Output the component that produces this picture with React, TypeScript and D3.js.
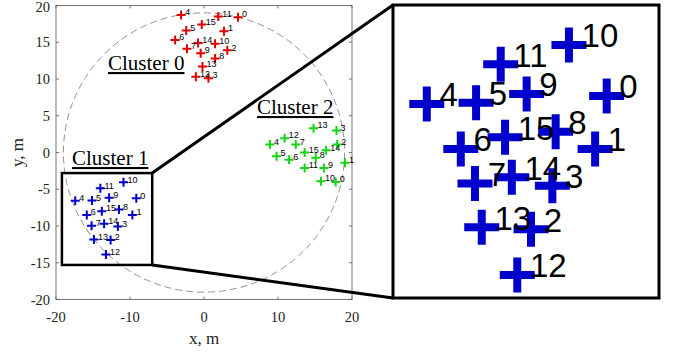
import * as d3 from 'd3';

// point ids, same order in every cluster
const ids = ['0', '1', '2', '3', '4', '5', '6', '7', '8', '9', '10', '11', '12', '13', '14', '15'];

const cluster0X = [4.6, 2.7, 3.15, 0.6, -3.1, -2.4, -3.9, -2.3, 1.5, -0.45, 1.5, 1.93, -1.1, -0.2, -0.8, -0.3];
const cluster0Y = [18.4, 16.5, 13.9, 10.1, 18.7, 16.6, 15.3, 14.1, 12.8, 13.5, 14.8, 18.5, 10.3, 11.7, 14.9, 17.4];

const cluster1X = [-9.15, -9.68, -12.62, -11.64, -17.4, -15.14, -15.84, -15.19, -11.49, -12.82, -10.88, -14.01, -13.25, -14.88, -13.5, -13.81];
const cluster1Y = [-6.23, -8.49, -11.92, -10.06, -6.57, -6.52, -8.49, -9.96, -7.76, -6.15, -4.06, -4.88, -13.87, -11.83, -9.7, -7.99];

const cluster2X = [17.8, 19.05, 18.0, 17.9, 8.9, 9.8, 11.5, 12.4, 15.1, 16.2, 15.8, 13.6, 10.9, 14.8, 16.5, 13.6];
const cluster2Y = [-4.0, -1.4, 1.1, 3.0, 1.1, -0.5, -1.0, 1.1, -0.7, -2.1, -3.9, -2.1, 1.95, 3.3, 0.3, 0.0];

const clusterNames = ['Cluster 0', 'Cluster 1', 'Cluster 2'];
const xTicks = [-20, -10, 0, 10, 20];
const yTicks = [-20, -15, -10, -5, 0, 5, 10, 15, 20];

// zoomed region (data units) and the inset's own limits
const zoomX = [-19.2, -7.0];
const zoomY = [-15.3, -2.8];
const insetX = [-18.95, -6.75];
const insetY = [-14.85, -2.35];
const circleR = 19;

const colors = ['#dd0000', '#0000cc', '#11d611'];
const serif = '"Liberation Serif", "Times New Roman", serif';
const sans = '"Liberation Sans", Arial, sans-serif';

const clusters = [
  { xs: cluster0X, ys: cluster0Y, color: colors[0] },
  { xs: cluster1X, ys: cluster1Y, color: colors[1] },
  { xs: cluster2X, ys: cluster2Y, color: colors[2] },
];

const cross = (cx: number, cy: number, h: number) =>
  `M${cx - h},${cy}H${cx + h}M${cx},${cy - h}V${cy + h}`;

export default function App() {
  const W = 678, H = 354;
  const x = d3.scaleLinear().domain([-20, 20]).range([56, 352]);
  const y = d3.scaleLinear().domain([-20, 20]).range([299.5, 5.5]);
  const ix = d3.scaleLinear().domain(insetX).range([393, 659]);
  const iy = d3.scaleLinear().domain(insetY).range([298, 5]);

  const rx0 = x(zoomX[0]), rx1 = x(zoomX[1]);
  const ry0 = y(zoomY[1]), ry1 = y(zoomY[0]);

  // label anchors for the cluster names, in data units
  const nameAt = [[-12.97, 11.22], [-17.84, -1.7], [7.16, 5.24]];

  return (
    <svg width={W} height={H} style={{ position: 'absolute', left: 0, top: 0, background: '#fff' }}>
      {/* dashed circle */}
      <ellipse cx={x(0)} cy={y(0)} rx={x(circleR) - x(0)} ry={y(0) - y(circleR)}
        fill="none" stroke="#777" strokeWidth={0.8} strokeDasharray="7,4" />

      {/* axes box + ticks */}
      <rect x={x(-20)} y={y(20)} width={x(20) - x(-20)} height={y(-20) - y(20)}
        fill="none" stroke="#555" strokeWidth={0.8} />
      {xTicks.map(t => (
        <g key={'xt' + t}>
          <line x1={x(t)} x2={x(t)} y1={y(-20)} y2={y(-20) - 3} stroke="#555" strokeWidth={0.8} />
          <line x1={x(t)} x2={x(t)} y1={y(20)} y2={y(20) + 3} stroke="#555" strokeWidth={0.8} />
          <text x={x(t)} y={322} textAnchor="middle" fontFamily={serif} fontSize={14.5} fill="#222">{t}</text>
        </g>
      ))}
      {yTicks.map(t => (
        <g key={'yt' + t}>
          <line x1={x(-20)} x2={x(-20) + 3} y1={y(t)} y2={y(t)} stroke="#555" strokeWidth={0.8} />
          <line x1={x(20)} x2={x(20) - 3} y1={y(t)} y2={y(t)} stroke="#555" strokeWidth={0.8} />
          <text x={50} y={Math.max(y(t), 6.5)} dy="0.35em" textAnchor="end" fontFamily={serif} fontSize={14.5} fill="#222">{t}</text>
        </g>
      ))}
      <text x={x(0)} y={344} textAnchor="middle" fontFamily={serif} fontSize={17} fill="#222">x, m</text>
      <text transform={`translate(23,${y(0)}) rotate(-90)`} textAnchor="middle" fontFamily={serif} fontSize={17} fill="#222">y, m</text>

      {/* points in main plot */}
      {clusters.map((c, k) => (
        <g key={'c' + k}>
          {c.xs.map((v, i) => (
            <path key={i} d={cross(x(v), y(c.ys[i]), 4.5)} stroke={c.color} strokeWidth={2} fill="none" />
          ))}
          {c.xs.map((v, i) => (
            <text key={'l' + i} x={x(v + 0.55)} y={y(c.ys[i] + 0.4)} dy="0.35em"
              fontFamily={sans} fontSize={9} fill="#000">{ids[i]}</text>
          ))}
        </g>
      ))}

      {clusterNames.map((n, k) => (
        <text key={n} x={x(nameAt[k][0])} y={y(nameAt[k][1])} fontFamily={serif} fontSize={21}
          fill="#000" style={{ textDecoration: 'underline' }}>{n}</text>
      ))}

      {/* zoom rectangle and connectors */}
      <rect x={rx0} y={ry0} width={rx1 - rx0} height={ry1 - ry0} fill="none" stroke="#000" strokeWidth={2.5} />
      <line x1={rx1} y1={ry0} x2={393} y2={5} stroke="#000" strokeWidth={3} />
      <line x1={rx1} y1={ry1} x2={393} y2={298} stroke="#000" strokeWidth={3} />

      {/* inset */}
      <rect x={393} y={5} width={266} height={293} fill="#fff" stroke="#000" strokeWidth={3} />
      {cluster1X.map((v, i) => (
        <path key={'ip' + i} d={cross(ix(v), iy(cluster1Y[i]), 17.5)} stroke={colors[1]} strokeWidth={8} fill="none" />
      ))}
      {cluster1X.map((v, i) => (
        <text key={'il' + i} x={ix(v + 0.58)} y={iy(cluster1Y[i] + 0.39)} dy="0.35em"
          fontFamily={sans} fontSize={33} fill="#000">{ids[i]}</text>
      ))}
    </svg>
  );
}
